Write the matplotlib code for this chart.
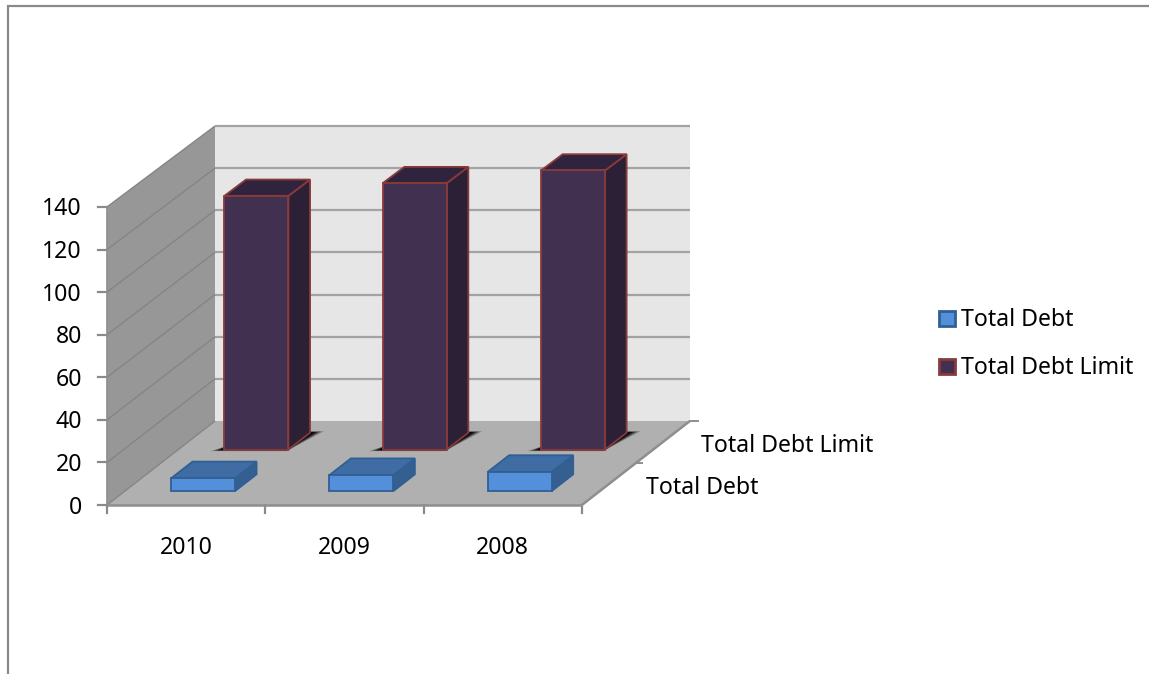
import matplotlib
matplotlib.use("Agg")
import matplotlib.pyplot as plt
from matplotlib.patches import Polygon

categories = ["2010", "2009", "2008"]
total_debt = [6, 7.5, 9]
total_debt_limit = [120, 126, 132]
series_names = ["Total Debt", "Total Debt Limit"]
y_ticks = [0, 20, 40, 60, 80, 100, 120, 140]

W, H = 1149, 674
fig = plt.figure(figsize=(W / 100, H / 100), dpi=100, facecolor="white")
ax = fig.add_axes([0, 0, 1, 1])
ax.set_xlim(0, W)
ax.set_ylim(H, 0)
ax.axis("off")

X0, Y0 = 107.0, 505.0
CAT_W = 158.3
UNIT_FRONT, UNIT_BACK = 2.129, 2.107
DX, DY = 108.0, -84.0
BAR_W = 64 / CAT_W
BAR_SHIFT = -1 / CAT_W
FONT = "Noto Sans"
FS = 16.6
TEXT_DY = 2.5


def proj(c, d, v):
    unit = UNIT_FRONT + (UNIT_BACK - UNIT_FRONT) * d
    return (X0 + c * CAT_W + d * DX, Y0 - v * unit + d * DY)


def poly(points, fc, ec="none", lw=0, z=1, alpha=None):
    ax.add_patch(Polygon([proj(*p) for p in points], closed=True, facecolor=fc,
                         edgecolor=ec, linewidth=lw, zorder=z, alpha=alpha,
                         joinstyle="miter"))


def line(a, b, color="#8e8e8e", lw=1.5, z=2):
    p, q = proj(*a), proj(*b)
    ax.plot([p[0], q[0]], [p[1], q[1]], color=color, lw=lw, zorder=z,
            solid_capstyle="butt")


# chart frame
ax.plot([8, 8, W], [H, 6, 6], color="#8a8a8a", lw=1.6, zorder=0, solid_joinstyle="miter")

n = len(categories)
vmax = y_ticks[-1]
poly([(0, 1, 0), (n, 1, 0), (n, 1, vmax), (0, 1, vmax)], "#e6e6e6", z=1)
poly([(0, 0, 0), (0, 1, 0), (0, 1, vmax), (0, 0, vmax)], "#979797", z=1)
poly([(0, 0, 0), (n, 0, 0), (n, 1, 0), (0, 1, 0)], "#b0b0b0", z=1)

for t in y_ticks:
    if t > 0:
        line((0, 1, t), (n, 1, t), color="#a3a3a3", lw=1.6)
    line((0, 0, t), (0, 1, t), color="#858585", lw=1.0)
    p = proj(0, 0, t)
    ax.plot([p[0] - 9, p[0]], [p[1], p[1]], color="#8a8a8a", lw=1.6, zorder=2)
    ax.text(p[0] - 25, p[1] + TEXT_DY, str(t), ha="right", va="center", family=FONT,
            fontsize=FS, color="black")

line((0, 0, 0), (n, 0, 0), lw=1.8, z=3)
line((0, 0, 0), (0, 0, vmax), lw=1.2, z=3)
line((n, 0, 0), (n, 1.0, 0), color="#8e8e8e", lw=1.8, z=3)
for i in range(n + 1):
    p = proj(i, 0, 0)
    ax.plot([p[0], p[0]], [p[1], p[1] + 8], color="#8a8a8a", lw=1.6, zorder=2)
p = proj(n, 0.5, 0)
ax.plot([p[0], p[0] + 6], [p[1], p[1]], color="#8e8e8e", lw=1.4, zorder=2)
p = proj(n, 1, 0)
ax.plot([p[0], p[0] + 8], [p[1], p[1]], color="#8e8e8e", lw=1.4, zorder=2)


def bar(i, d0, d1, v, front, side, top, edge, shadow=False):
    c0 = i + 0.5 - BAR_W / 2 + BAR_SHIFT
    c1 = i + 0.5 + BAR_W / 2 + BAR_SHIFT
    if shadow:
        for grow, a in [(12, 0.25), (9, 0.45), (6, 0.7), (3, 0.95)]:
            g = grow / CAT_W
            e = grow / CAT_W * 0.25
            poly([(c0 - g, d0 - e, 0), (c1, d0 - e, 0), (c1 + g, d1 + e, 0),
                  (c1, d1 + e, 0), (c0, d0 + 0.06, 0)],
                 "black", z=4, alpha=a)
    poly([(c1, d0, 0), (c1, d1, 0), (c1, d1, v), (c1, d0, v)], side, edge, 1.3, 5)
    poly([(c0, d0, v), (c1, d0, v), (c1, d1, v), (c0, d1, v)], top, edge, 1.3, 5)
    poly([(c0, d0, 0), (c1, d0, 0), (c1, d0, v), (c0, d0, v)], front, edge, 1.3, 6)


for i in range(n):
    bar(i, 0.66, 0.86, total_debt_limit[i], "#41304f", "#2b2036", "#30233d", "#8a3a3a", shadow=True)
for i in range(n):
    bar(i, 0.165, 0.365, total_debt[i], "#548fd9", "#355f90", "#3f6da3", "#2f5f95")

for i, c in enumerate(categories):
    p = proj(i + 0.5, 0, 0)
    ax.text(p[0], 546 + TEXT_DY, c, ha="center", va="center", family=FONT, fontsize=FS, color="black")

ax.text(646, 485 + TEXT_DY, series_names[0], ha="left", va="center", family=FONT, fontsize=FS, color="black")
ax.text(701, 444 + TEXT_DY, series_names[1], ha="left", va="center", family=FONT, fontsize=FS, color="black")

for name, y, fc, ec in [(series_names[0], 318.5, "#548fd9", "#2f5f95"),
                        (series_names[1], 366.5, "#41304f", "#8a3a3a")]:
    ax.add_patch(Polygon([(938.5, y - 7.5), (954.5, y - 7.5), (954.5, y + 7.5), (938.5, y + 7.5)], closed=True,
                         facecolor=fc, edgecolor=ec, linewidth=2.0, zorder=5))
    ax.text(961, y + TEXT_DY - 0.5, name, ha="left", va="center", family=FONT, fontsize=FS, color="black")

fig.savefig("out.png", dpi=100)
